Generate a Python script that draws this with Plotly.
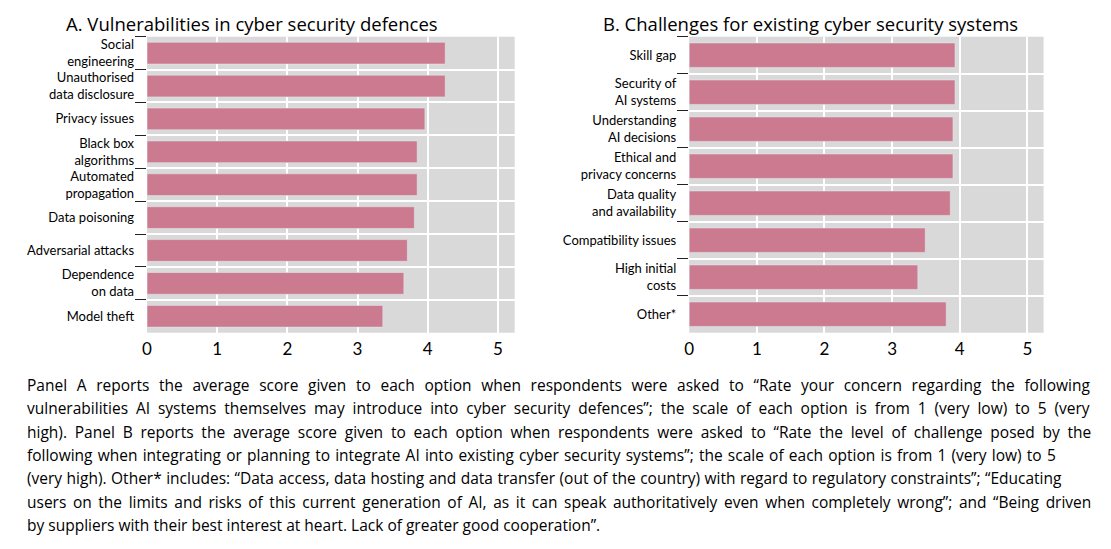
import plotly.graph_objects as go

# ---------------- data ----------------
cats_a = ["Social<br>engineering", "Unauthorised<br>data disclosure", "Privacy issues",
          "Black box<br>algorithms", "Automated<br>propagation", "Data poisoning",
          "Adversarial attacks", "Dependence<br>on data", "Model theft"]
vals_a = [4.25, 4.25, 3.96, 3.85, 3.85, 3.81, 3.71, 3.66, 3.36]

cats_b = ["Skill gap", "Security of<br>AI systems", "Understanding<br>AI decisions",
          "Ethical and<br>privacy concerns", "Data quality<br>and availability",
          "Compatibility issues", "High initial<br>costs", "Other*"]
vals_b = [3.93, 3.93, 3.90, 3.90, 3.86, 3.49, 3.38, 3.80]

x_ticks = [0, 1, 2, 3, 4, 5]

title_a = "A. Vulnerabilities in cyber security defences"
title_b = "B. Challenges for existing cyber security systems"

note_lines = [
    "Panel A reports the average score given to each option when respondents were asked to \u201cRate your concern regarding the following",
    "vulnerabilities AI systems themselves may introduce into cyber security defences\u201d; the scale of each option is from 1 (very low) to 5 (very",
    "high). Panel B reports the average score given to each option when respondents were asked to \u201cRate the level of challenge posed by the",
    "following when integrating or planning to integrate AI into existing cyber security systems\u201d; the scale of each option is from 1 (very low) to 5",
    "(very high). Other* includes: \u201cData access, data hosting and data transfer (out of the country) with regard to regulatory constraints\u201d; \u201cEducating",
    "users on the limits and risks of this current generation of AI, as it can speak authoritatively even when completely wrong\u201d; and \u201cBeing driven",
    "by suppliers with their best interest at heart. Lack of greater good cooperation\u201d.",
]
# extra horizontal room (px) to spread over word gaps, to imitate justified text
note_extra = [113, 84, 87, 28, 9, 59, 0]

# ---------------- style ----------------
BAR = "#cc7a8f"
BG = "#d9d9d9"
FONT = "Lato"
FONT2 = "Open Sans"
NOTE_SIZE = 15.5
W, H = 1111, 549


def justify(line, extra_px):
    gaps = line.count(" ")
    if extra_px <= 0 or gaps <= 0:
        return line
    ws = extra_px / gaps
    return '<span style="word-spacing:%.2fpx">%s</span>' % (ws, line)


fig = go.Figure()
fig.add_trace(go.Bar(x=vals_a, y=cats_a, orientation="h", marker_color=BAR,
                     width=0.66, xaxis="x", yaxis="y", showlegend=False))
fig.add_trace(go.Bar(x=vals_b, y=cats_b, orientation="h", marker_color=BAR,
                     width=0.66, xaxis="x2", yaxis="y2", showlegend=False))

ytop = 1 - 36.7 / H
ybot = 1 - 332.7 / H

xcommon = dict(range=[0, 5.24], tickvals=x_ticks, showgrid=True, gridcolor="white",
               gridwidth=1.5, zeroline=False, showline=False, ticks="",
               ticklabelstandoff=4,
               tickfont=dict(size=17, color="black", family=FONT), fixedrange=True)
ycommon = dict(autorange="reversed", tickson="boundaries", ticks="outside", ticklen=11,
               tickcolor="#222", tickwidth=1, showgrid=True, gridcolor="white",
               gridwidth=1.5, showline=False, zeroline=False, ticklabelstandoff=12,
               tickfont=dict(size=13, color="black", family=FONT), fixedrange=True)

fig.update_layout(
    width=W, height=H,
    margin=dict(l=0, r=0, t=0, b=0),
    paper_bgcolor="white", plot_bgcolor=BG,
    font=dict(family=FONT, color="black"),
    bargap=0.34,
    xaxis=dict(domain=[142.7 / W, 512 / W], anchor="y", **xcommon),
    yaxis=dict(domain=[ybot, ytop], anchor="x", **ycommon),
    xaxis2=dict(domain=[687.3 / W, 1043.3 / W], anchor="y2", **xcommon),
    yaxis2=dict(domain=[ybot, ytop], anchor="x2", **ycommon),
)

annots = [
    dict(text=title_a, x=59 / W, y=1 - 23 / H, xref="paper", yref="paper",
         xanchor="left", yanchor="middle", showarrow=False,
         font=dict(size=18.5, family=FONT2, color="black")),
    dict(text=title_b, x=599 / W, y=1 - 23 / H, xref="paper", yref="paper",
         xanchor="left", yanchor="middle", showarrow=False,
         font=dict(size=18.5, family=FONT2, color="black")),
]
y0 = 385
for i, line in enumerate(note_lines):
    annots.append(dict(text=justify(line, note_extra[i]),
                       x=20 / W, y=1 - (y0 + i * 23.3) / H,
                       xref="paper", yref="paper", xanchor="left", yanchor="middle",
                       showarrow=False, align="left",
                       font=dict(size=NOTE_SIZE, family=FONT2, color="black")))
fig.update_layout(annotations=annots)

fig.write_html("out.html")
